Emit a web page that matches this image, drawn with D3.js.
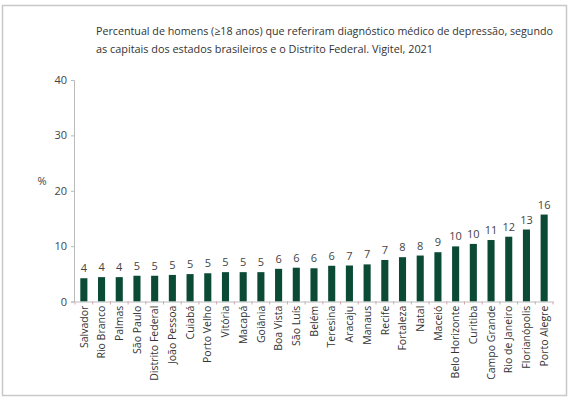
<!DOCTYPE html>
<html>
<head>
<meta charset="utf-8">
<script src="https://cdn.jsdelivr.net/npm/d3@7"></script>
<style>
  body { margin: 0; background: #fff; }
  svg text { font-family: "Open Sans", "Noto Sans", sans-serif; }
</style>
</head>
<body>
<div id="chart"></div>
<script>
// capitals, sorted as in the source figure
const cities = ['Salvador', 'Rio Branco', 'Palmas', 'São Paulo', 'Distrito Federal', 'João Pessoa',
  'Cuiabá', 'Porto Velho', 'Vitória', 'Macapá', 'Goiânia', 'Boa Vista', 'São Luís', 'Belém',
  'Teresina', 'Aracaju', 'Manaus', 'Recife', 'Fortaleza', 'Natal', 'Maceió', 'Belo Horizonte',
  'Curitiba', 'Campo Grande', 'Rio de Janeiro', 'Florianópolis', 'Porto Alegre']
// percent of men (estimated bar heights)
const values = [4.2, 4.4, 4.4, 4.65, 4.65, 4.8, 4.95, 5.1, 5.3, 5.3, 5.3, 5.9, 6.1, 6.0,
  6.45, 6.5, 6.7, 7.5, 8.0, 8.3, 8.9, 9.95, 10.4, 11.1, 11.7, 13.0, 15.7]
// rounded labels printed above the bars
const labels = [4, 4, 4, 5, 5, 5, 5, 5, 5, 5, 5, 6, 6, 6, 6, 7, 7, 7, 8, 8, 9, 10, 10, 11, 12, 13, 16]
const yTicks = [0, 10, 20, 30, 40]
const titleLines = [
  'Percentual de homens (≥18 anos) que referiram diagnóstico médico de depressão, segundo',
  'as capitais dos estados brasileiros e o Distrito Federal. Vigitel, 2021'
]

const width = 570, height = 400
const svg = d3.select('#chart').append('svg')
  .attr('width', width)
  .attr('height', height)

// outer frame
svg.append('rect')
  .attr('x', 2.5).attr('y', 5.5)
  .attr('width', 564).attr('height', 390)
  .attr('fill', 'none')
  .attr('stroke', '#c8c8c8')
  .attr('stroke-width', 1.5)

// title
svg.append('g').selectAll('text')
  .data(titleLines)
  .join('text')
  .attr('x', 96)
  .attr('y', (d, i) => 35 + i * 18)
  .attr('fill', '#333')
  .style('font-size', '11px')
  .attr('textLength', (d, i) => i === 0 ? 457 : 337)
  .attr('lengthAdjust', 'spacingAndGlyphs')
  .text(d => d)

const x = d3.scaleBand()
  .domain(cities)
  .range([75, 553])
  .paddingInner(0.6)
  .paddingOuter(0.3)
const y = d3.scaleLinear()
  .domain([0, 40])
  .range([301.5, 80])

// y axis
const yAxis = svg.append('g')
  .attr('transform', 'translate(74,0)')
  .call(d3.axisLeft(y).tickValues(yTicks).tickSize(3).tickPadding(4))
yAxis.select('.domain').attr('stroke', '#bbb')
yAxis.selectAll('.tick line').attr('stroke', '#bbb')
yAxis.selectAll('.tick text')
  .attr('fill', '#444')
  .style('font-size', '11px')

svg.append('text')
  .attr('x', 42).attr('y', 185)
  .attr('text-anchor', 'middle')
  .attr('fill', '#444')
  .style('font-size', '11px')
  .text('%')

// bars
svg.append('g').selectAll('rect')
  .data(cities)
  .join('rect')
  .attr('x', d => x(d))
  .attr('y', (d, i) => y(values[i]))
  .attr('width', x.bandwidth())
  .attr('height', (d, i) => y(0) - y(values[i]))
  .attr('fill', '#0b4a35')

// value labels
svg.append('g').selectAll('text')
  .data(cities)
  .join('text')
  .attr('x', d => x(d) + x.bandwidth() / 2)
  .attr('y', (d, i) => y(values[i]) - 6)
  .attr('text-anchor', 'middle')
  .attr('fill', '#444')
  .style('font-size', '11px')
  .text((d, i) => labels[i])

// x axis
const xAxis = svg.append('g')
  .attr('transform', 'translate(0,' + y(0) + ')')
  .call(d3.axisBottom(x).tickSize(0).tickPadding(6))
xAxis.select('.domain').attr('stroke', '#bbb')
xAxis.selectAll('.tick text')
  .attr('transform', 'rotate(-90)')
  .attr('text-anchor', 'end')
  .attr('dx', '-0.4em')
  .attr('dy', '0.35em')
  .attr('x', 0).attr('y', 0)
  .attr('fill', '#333')
  .style('font-size', '10.5px')

// small separators between categories
const step = x.step()
svg.append('g').selectAll('line')
  .data(d3.range(cities.length + 1))
  .join('line')
  .attr('x1', i => 75 + i * step)
  .attr('x2', i => 75 + i * step)
  .attr('y1', y(0))
  .attr('y2', y(0) + 3)
  .attr('stroke', '#d4a5a5')
</script>
</body>
</html>
